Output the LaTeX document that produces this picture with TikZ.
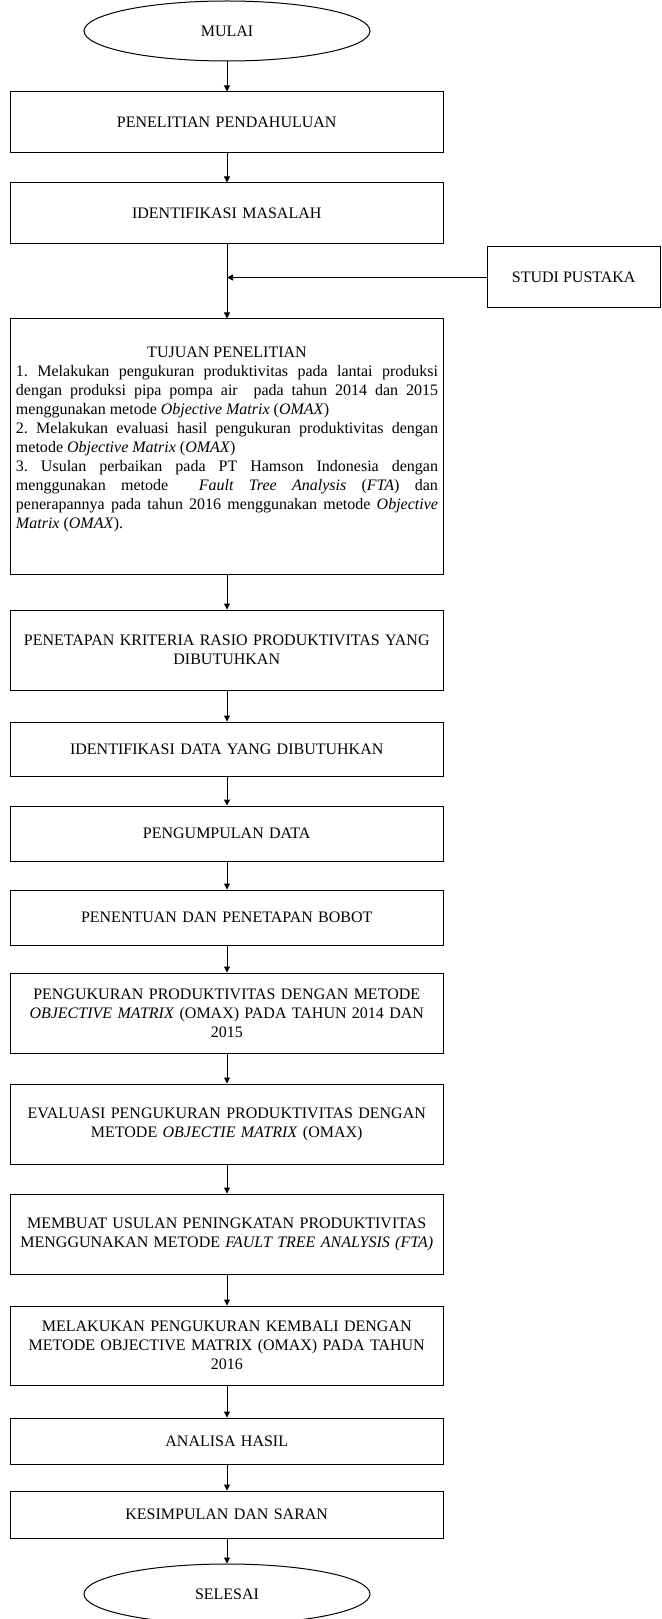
\documentclass[tikz,border=0pt]{standalone}
\usepackage{fontspec}
\setmainfont{Liberation Serif}
\usetikzlibrary{arrows.meta,shapes.geometric}
\setlength{\parindent}{0pt}
\frenchspacing
\begin{document}
\begin{tikzpicture}[x=0.75pt,y=-0.75pt,
  txt/.style={font=\fontsize{12}{14.2}\selectfont},
  box/.style={txt,draw,line width=0.75pt,minimum width=324.4pt,inner sep=0pt,text width=318pt,align=center},
  term/.style={txt,draw,ellipse,line width=0.75pt,minimum width=214.5pt,minimum height=45pt,inner sep=0pt},
  arr/.style={-{Triangle[length=4.5pt,width=4.5pt]},line width=0.75pt}]
\useasboundingbox (0,0) rectangle (661,1619);

\node[term] (mulai) at (227,31) {MULAI};
\node[box,minimum height=45.75pt] (pp) at (226.75,122.5) {PENELITIAN PENDAHULUAN};
\node[box,minimum height=45.75pt] (im) at (226.75,213.5) {IDENTIFIKASI MASALAH};
\node[txt,draw,line width=0.75pt,minimum width=130.1pt,minimum height=45.75pt,inner sep=0pt] (sp) at (573.75,277.5) {STUDI PUSTAKA};
\node[draw,line width=0.75pt,minimum width=324.4pt,minimum height=191.25pt,inner sep=0pt] (tp) at (226.75,446.5) {};
\node[txt,anchor=north,text width=316.5pt,align=justify,inner sep=0pt] (tt) at (227,347) {%
{\centering TUJUAN PENELITIAN\par}
1. Melakukan pengukuran produktivitas pada lantai produksi\linebreak
dengan produksi pipa pompa air\ \ pada tahun 2014 dan 2015\linebreak
menggunakan metode \textit{Objective Matrix} (\textit{OMAX})\par
2. Melakukan evaluasi hasil pengukuran produktivitas dengan\linebreak
metode \textit{Objective Matrix} (\textit{OMAX})\par
3. Usulan perbaikan pada PT Hamson Indonesia dengan\linebreak
menggunakan metode\ \ \textit{Fault Tree Analysis} (\textit{FTA}) dan\linebreak
penerapannya pada tahun 2016 menggunakan metode \textit{Objective}\linebreak
\textit{Matrix} (\textit{OMAX}).\par};
\node[box,minimum height=60pt] (pk) at (226.75,650) {PENETAPAN KRITERIA RASIO PRODUKTIVITAS YANG\\DIBUTUHKAN};
\node[box,minimum height=40.5pt] (idb) at (226.75,749) {IDENTIFIKASI DATA YANG DIBUTUHKAN};
\node[box,minimum height=41.25pt] (pd) at (226.75,833.5) {PENGUMPULAN DATA};
\node[box,minimum height=41.25pt] (pb) at (226.75,917.5) {PENENTUAN DAN PENETAPAN BOBOT};
\node[box,minimum height=60pt] (po) at (226.75,1013) {PENGUKURAN PRODUKTIVITAS DENGAN METODE\\\textit{OBJECTIVE MATRIX} (OMAX) PADA TAHUN 2014 DAN\\2015};
\node[box,minimum height=60pt] (ev) at (226.75,1124) {EVALUASI PENGUKURAN PRODUKTIVITAS DENGAN\\METODE \textit{OBJECTIE MATRIX} (OMAX)};
\node[box,minimum height=60pt] (mu) at (226.75,1234) {MEMBUAT USULAN PENINGKATAN PRODUKTIVITAS\\MENGGUNAKAN METODE \textit{FAULT TREE ANALYSIS (FTA)}};
\node[box,minimum height=59.25pt] (mk) at (226.75,1345.5) {MELAKUKAN PENGUKURAN KEMBALI DENGAN\\METODE OBJECTIVE MATRIX (OMAX) PADA TAHUN\\2016};
\node[box,minimum height=34.5pt] (ah) at (226.75,1441) {ANALISA HASIL};
\node[box,minimum height=35.25pt] (ks) at (226.75,1514.5) {KESIMPULAN DAN SARAN};
\node[term] (selesai) at (227,1594) {SELESAI};

\coordinate (j) at (227,277.5);
\draw[arr] (mulai.south) -- (mulai.south |- pp.north);
\draw[arr] (mulai.south |- pp.south) -- (mulai.south |- im.north);
\draw[arr] (mulai.south |- im.south) -- (mulai.south |- tp.north);
\draw[arr] (sp.west) -- (j);
\draw[arr] (mulai.south |- tp.south) -- (mulai.south |- pk.north);
\draw[arr] (mulai.south |- pk.south) -- (mulai.south |- idb.north);
\draw[arr] (mulai.south |- idb.south) -- (mulai.south |- pd.north);
\draw[arr] (mulai.south |- pd.south) -- (mulai.south |- pb.north);
\draw[arr] (mulai.south |- pb.south) -- (mulai.south |- po.north);
\draw[arr] (mulai.south |- po.south) -- (mulai.south |- ev.north);
\draw[arr] (mulai.south |- ev.south) -- (mulai.south |- mu.north);
\draw[arr] (mulai.south |- mu.south) -- (mulai.south |- mk.north);
\draw[arr] (mulai.south |- mk.south) -- (mulai.south |- ah.north);
\draw[arr] (mulai.south |- ah.south) -- (mulai.south |- ks.north);
\draw[arr] (mulai.south |- ks.south) -- (selesai.north);
\end{tikzpicture}
\end{document}
